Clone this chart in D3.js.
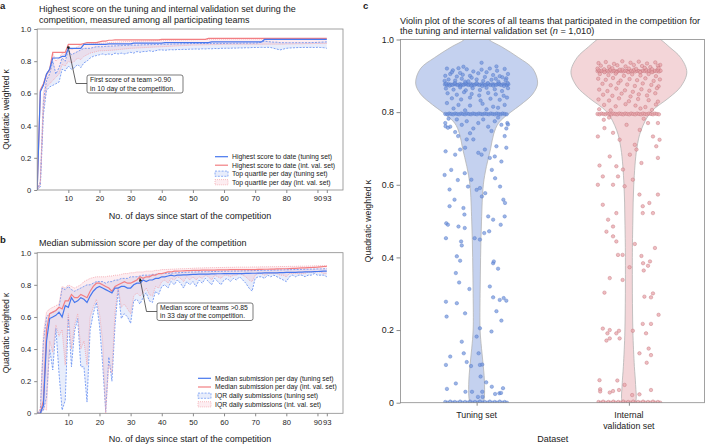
<!DOCTYPE html>
<html><head><meta charset="utf-8">
<script src="https://cdn.jsdelivr.net/npm/d3@7"></script>
<style>body{margin:0;background:#fff}svg{display:block}text{font-family:"Liberation Sans",Arial,sans-serif;fill:#222}</style>
</head><body>
<script>
// ---------- DATA ----------
const days = [0,1,2,3,4,5,6,7,8,9,10,11,12,13,14,15,16,17,18,19,20,21,22,23,24,25,26,27,28,29,30,31,32,33,34,35,36,37,38,39,40,41,42,43,44,45,46,47,48,49,50,51,52,53,54,55,56,57,58,59,60,61,62,63,64,65,66,67,68,69,70,71,72,73,74,75,76,77,78,79,80,81,82,83,84,85,86,87,88,89,90,91,92,93];
const xTicks = [10,20,30,40,50,60,70,80,90,93];
const yTicks = [0,0.2,0.4,0.6,0.8,1.0];

// Panel a
const bestTuning = [0.00,0.61,0.65,0.72,0.75,0.82,0.82,0.82,0.83,0.83,
 0.88,0.88,0.88,0.88,0.88,0.905,0.905,0.905,0.905,0.905,
 0.905,0.905,0.905,0.908,0.908,0.908,0.908,0.908,0.908,0.908,
 0.908,0.912,0.912,0.912,0.912,0.912,0.912,0.912,0.912,0.912,
 0.912,0.915,0.915,0.915,0.915,0.915,0.915,0.915,0.915,0.915,
 0.915,0.915,0.915,0.915,0.915,0.915,0.92,0.92,0.92,0.92,
 0.92,0.92,0.92,0.92,0.92,0.92,0.92,0.92,0.92,0.92,
 0.92,0.92,0.92,0.935,0.935,0.935,0.935,0.935,0.935,0.935,
 0.935,0.935,0.935,0.935,0.935,0.935,0.935,0.935,0.935,0.935,
 0.935,0.935,0.935,0.935];
const bestInternal = [0.00,0.62,0.66,0.72,0.75,0.855,0.855,0.855,0.855,0.855,
 0.905,0.905,0.905,0.905,0.905,0.91,0.915,0.915,0.915,0.915,
 0.92,0.925,0.925,0.93,0.93,0.932,0.932,0.932,0.932,0.932,
 0.932,0.932,0.932,0.932,0.932,0.932,0.932,0.932,0.932,0.932,
 0.936,0.936,0.936,0.936,0.936,0.936,0.936,0.936,0.936,0.936,
 0.936,0.936,0.936,0.936,0.936,0.942,0.942,0.942,0.942,0.942,
 0.942,0.942,0.942,0.942,0.942,0.942,0.942,0.942,0.942,0.942,
 0.942,0.942,0.942,0.942,0.942,0.942,0.942,0.942,0.942,0.942,
 0.942,0.942,0.942,0.942,0.942,0.942,0.942,0.942,0.942,0.942,
 0.942,0.942,0.942,0.942];
const topQTuningHi = [0.00,0.05,0.55,0.68,0.72,0.80,0.72,0.76,0.82,0.80,
 0.87,0.84,0.85,0.86,0.87,0.88,0.88,0.88,0.885,0.89,
 0.89,0.89,0.892,0.893,0.894,0.895,0.896,0.897,0.898,0.899,
 0.90,0.90,0.90,0.901,0.902,0.902,0.903,0.903,0.904,0.904,
 0.905,0.905,0.906,0.906,0.907,0.907,0.908,0.908,0.909,0.909,
 0.91,0.91,0.91,0.91,0.91,0.91,0.91,0.91,0.91,0.91,
 0.91,0.91,0.91,0.911,0.911,0.911,0.912,0.912,0.912,0.912,
 0.912,0.914,0.918,0.925,0.922,0.92,0.918,0.918,0.915,0.915,
 0.915,0.915,0.915,0.915,0.915,0.915,0.915,0.915,0.916,0.916,
 0.917,0.918,0.919,0.92];
const topQTuningLo = [0.00,0.02,0.47,0.62,0.64,0.65,0.66,0.67,0.75,0.74,
 0.77,0.75,0.76,0.78,0.76,0.79,0.80,0.82,0.83,0.835,
 0.84,0.845,0.84,0.845,0.84,0.85,0.845,0.85,0.845,0.85,
 0.855,0.85,0.86,0.855,0.86,0.86,0.865,0.86,0.865,0.87,
 0.87,0.868,0.87,0.872,0.87,0.873,0.872,0.874,0.873,0.875,
 0.875,0.876,0.875,0.877,0.876,0.878,0.877,0.879,0.878,0.88,
 0.88,0.881,0.88,0.882,0.881,0.883,0.882,0.884,0.883,0.885,
 0.885,0.885,0.886,0.885,0.886,0.885,0.88,0.875,0.87,0.875,
 0.88,0.882,0.883,0.884,0.885,0.885,0.886,0.885,0.886,0.885,
 0.886,0.885,0.884,0.88];
const topQIntHi = [0.00,0.06,0.60,0.70,0.74,0.85,0.80,0.82,0.85,0.84,
 0.90,0.87,0.88,0.89,0.90,0.905,0.905,0.907,0.908,0.909,
 0.91,0.912,0.914,0.915,0.917,0.918,0.919,0.92,0.921,0.922,
 0.923,0.924,0.925,0.925,0.926,0.926,0.927,0.927,0.928,0.928,
 0.929,0.929,0.93,0.93,0.93,0.931,0.931,0.932,0.932,0.933,
 0.933,0.934,0.934,0.935,0.935,0.936,0.936,0.936,0.937,0.937,
 0.937,0.937,0.938,0.938,0.938,0.938,0.938,0.938,0.938,0.938,
 0.938,0.938,0.938,0.939,0.939,0.939,0.939,0.939,0.939,0.939,
 0.94,0.94,0.94,0.94,0.94,0.94,0.94,0.94,0.94,0.94,
 0.94,0.94,0.94,0.94];
const topQIntLo = [0.00,0.03,0.50,0.64,0.66,0.68,0.70,0.72,0.78,0.77,
 0.80,0.79,0.80,0.82,0.81,0.83,0.84,0.85,0.855,0.86,
 0.865,0.865,0.866,0.867,0.868,0.87,0.872,0.874,0.876,0.878,
 0.88,0.881,0.882,0.883,0.884,0.885,0.886,0.887,0.888,0.889,
 0.89,0.891,0.892,0.893,0.894,0.895,0.896,0.897,0.898,0.899,
 0.90,0.90,0.901,0.901,0.902,0.902,0.903,0.903,0.904,0.904,
 0.905,0.905,0.905,0.905,0.905,0.905,0.905,0.905,0.905,0.905,
 0.905,0.905,0.905,0.906,0.906,0.906,0.906,0.906,0.906,0.906,
 0.907,0.907,0.907,0.908,0.908,0.908,0.909,0.909,0.909,0.91,
 0.91,0.91,0.91,0.91];

// Panel b
const medTuning = [0.00,0.00,0.05,0.45,0.59,0.60,0.61,0.63,0.60,0.67,
 0.66,0.72,0.69,0.70,0.72,0.71,0.69,0.73,0.76,0.78,
 0.79,0.78,0.77,0.76,0.75,0.78,0.78,0.79,0.79,0.78,
 0.78,0.80,0.81,0.81,0.83,0.82,0.83,0.83,0.84,0.84,
 0.85,0.85,0.855,0.86,0.855,0.86,0.86,0.862,0.862,0.864,
 0.865,0.865,0.866,0.866,0.867,0.867,0.868,0.868,0.869,0.869,
 0.87,0.87,0.87,0.87,0.87,0.87,0.87,0.871,0.871,0.872,
 0.872,0.873,0.873,0.874,0.874,0.875,0.875,0.875,0.876,0.876,
 0.877,0.877,0.878,0.878,0.879,0.879,0.88,0.88,0.881,0.882,
 0.883,0.884,0.885,0.885];
const medInternal = [0.00,0.00,0.08,0.52,0.62,0.63,0.64,0.66,0.65,0.70,
 0.70,0.74,0.72,0.72,0.74,0.73,0.72,0.76,0.79,0.81,
 0.81,0.80,0.79,0.78,0.76,0.79,0.80,0.81,0.82,0.81,
 0.81,0.82,0.83,0.85,0.84,0.85,0.85,0.86,0.86,0.87,
 0.87,0.875,0.88,0.88,0.885,0.885,0.886,0.887,0.888,0.889,
 0.89,0.89,0.89,0.891,0.891,0.892,0.892,0.892,0.893,0.893,
 0.893,0.893,0.894,0.894,0.894,0.894,0.895,0.895,0.895,0.895,
 0.895,0.896,0.896,0.897,0.897,0.898,0.898,0.899,0.899,0.90,
 0.90,0.901,0.902,0.903,0.904,0.905,0.906,0.907,0.908,0.909,
 0.91,0.912,0.914,0.915];
const iqrTuningHi = [0.00,0.02,0.45,0.60,0.62,0.63,0.64,0.66,0.78,0.77,
 0.79,0.77,0.76,0.77,0.78,0.79,0.80,0.80,0.81,0.82,
 0.82,0.82,0.81,0.82,0.82,0.83,0.83,0.84,0.84,0.84,
 0.85,0.85,0.85,0.855,0.86,0.86,0.86,0.865,0.865,0.87,
 0.87,0.871,0.872,0.873,0.874,0.875,0.876,0.877,0.878,0.879,
 0.88,0.88,0.881,0.881,0.882,0.882,0.883,0.883,0.884,0.884,
 0.885,0.885,0.885,0.886,0.886,0.886,0.887,0.887,0.888,0.888,
 0.889,0.889,0.89,0.89,0.891,0.891,0.892,0.892,0.893,0.893,
 0.894,0.894,0.895,0.895,0.896,0.896,0.897,0.897,0.898,0.898,
 0.899,0.899,0.90,0.90];
const iqrTuningLo = [0.00,0.00,0.02,0.10,0.40,0.27,0.53,0.25,0.02,0.08,
 0.60,0.29,0.51,0.59,0.29,0.29,0.07,0.52,0.62,0.69,
 0.55,0.31,0.01,0.35,0.20,0.55,0.77,0.59,0.62,0.60,
 0.56,0.70,0.71,0.68,0.72,0.75,0.70,0.69,0.76,0.74,
 0.79,0.80,0.78,0.82,0.80,0.83,0.81,0.78,0.82,0.80,
 0.82,0.79,0.83,0.81,0.84,0.82,0.80,0.84,0.82,0.80,
 0.83,0.84,0.82,0.84,0.83,0.85,0.83,0.81,0.78,0.76,
 0.84,0.85,0.85,0.84,0.86,0.85,0.86,0.85,0.84,0.83,
 0.82,0.85,0.86,0.85,0.86,0.86,0.85,0.86,0.86,0.87,
 0.86,0.86,0.86,0.85];
const iqrIntHi = [0.00,0.03,0.50,0.63,0.65,0.66,0.67,0.68,0.79,0.78,
 0.80,0.79,0.78,0.79,0.80,0.82,0.83,0.84,0.845,0.85,
 0.85,0.85,0.85,0.855,0.855,0.86,0.86,0.865,0.87,0.87,
 0.875,0.875,0.88,0.88,0.88,0.885,0.885,0.885,0.89,0.89,
 0.895,0.895,0.896,0.897,0.898,0.899,0.90,0.90,0.901,0.902,
 0.903,0.904,0.905,0.905,0.906,0.906,0.907,0.907,0.908,0.908,
 0.908,0.909,0.909,0.909,0.91,0.91,0.91,0.91,0.91,0.911,
 0.911,0.911,0.912,0.912,0.912,0.913,0.913,0.913,0.914,0.914,
 0.914,0.915,0.915,0.915,0.916,0.916,0.916,0.917,0.917,0.918,
 0.918,0.919,0.919,0.92];
const iqrIntLo = [0.00,0.00,0.03,0.02,0.45,0.38,0.55,0.48,0.52,0.30,
 0.62,0.40,0.55,0.62,0.40,0.45,0.30,0.60,0.66,0.71,
 0.62,0.45,0.00,0.30,0.25,0.63,0.79,0.66,0.68,0.65,
 0.62,0.73,0.75,0.73,0.75,0.78,0.74,0.73,0.79,0.78,
 0.82,0.83,0.81,0.84,0.83,0.85,0.84,0.82,0.85,0.83,
 0.85,0.83,0.85,0.84,0.86,0.85,0.83,0.86,0.85,0.84,
 0.86,0.86,0.85,0.86,0.86,0.87,0.86,0.85,0.83,0.82,
 0.86,0.87,0.87,0.86,0.87,0.87,0.87,0.87,0.86,0.86,
 0.85,0.87,0.87,0.87,0.87,0.87,0.87,0.88,0.88,0.88,
 0.88,0.88,0.87,0.87];

// Panel c
const datasets = ["Tuning set", "Internal validation set"];
const violinLevelsTuning = [1.04,1.0,0.98,0.95,0.92,0.88,0.85,0.82,0.80,0.77,0.74,0.70,0.65,0.60,0.50,0.40,0.30,0.20,0.15,0.10,0.05,0.0,-0.03];
const violinDensityTuning = [0,0.20,0.41,0.69,0.92,1.0,0.92,0.72,0.56,0.36,0.28,0.23,0.16,0.11,0.08,0.065,0.057,0.057,0.08,0.11,0.13,0.11,0];
const violinLevelsInternal = [1.06,1.0,0.98,0.95,0.91,0.87,0.84,0.80,0.75,0.70,0.60,0.50,0.40,0.20,0.10,0.05,0.0,-0.03];
const violinDensityInternal = [0,0.52,0.66,0.85,0.95,0.85,0.66,0.36,0.20,0.13,0.08,0.065,0.057,0.065,0.09,0.11,0.11,0];

// [jitter offset (-1..1), score]
const tuningPoints = [
[-0.96,0.876],[-0.9,0.875],[-0.85,0.877],[-0.79,0.876],[-0.74,0.875],[-0.68,0.877],[-0.62,0.876],[-0.57,0.875],[-0.51,0.877],[-0.46,0.876],[-0.4,0.875],[-0.35,0.877],[-0.29,0.876],[-0.24,0.875],[-0.18,0.877],[-0.13,0.876],[-0.07,0.875],[-0.02,0.877],[0.04,0.876],[0.09,0.875],[0.15,0.877],[0.2,0.876],[0.26,0.875],[0.31,0.877],[0.37,0.876],[0.42,0.875],[0.48,0.877],[0.53,0.876],[0.59,0.875],[0.64,0.877],[0.7,0.876],[0.75,0.875],[0.81,0.877],[0.86,0.876],[0.92,0.875],[0.96,0.877],
[-0.93,0.879],[-0.82,0.873],[-0.66,0.88],[-0.49,0.872],[-0.33,0.88],[-0.16,0.873],[0.0,0.88],[0.17,0.872],[0.34,0.88],[0.5,0.873],[0.67,0.879],[0.83,0.872],[0.94,0.88],
[0.15,0.936],[-0.4,0.925],[0.6,0.926],
[-0.9,0.92],[-0.72,0.915],[-0.55,0.921],[-0.3,0.918],[-0.1,0.912],[0.15,0.917],[0.4,0.92],[0.62,0.914],[0.85,0.919],[0.95,0.905],
[-0.95,0.9],[-0.8,0.905],[-0.6,0.898],[-0.42,0.903],[-0.2,0.9],[0.05,0.907],[0.25,0.897],[0.5,0.902],[0.7,0.899],[0.9,0.893],
[-0.85,0.89],[-0.65,0.887],[-0.45,0.892],[-0.25,0.885],[0,0.89],[0.2,0.886],[0.45,0.889],[0.66,0.884],[0.88,0.888],
[-0.75,0.91],[-0.5,0.908],[-0.15,0.895],[0.3,0.91],[0.78,0.896],[-0.35,0.884],[0.58,0.892],[-0.97,0.886],
[-0.93,0.865],[-0.7,0.862],[-0.5,0.868],[-0.33,0.86],[-0.12,0.866],[0.1,0.861],[0.3,0.867],[0.55,0.863],[0.77,0.858],[0.95,0.866],
[-0.88,0.852],[-0.6,0.848],[-0.38,0.855],[-0.15,0.85],[0.08,0.846],[0.35,0.853],[0.58,0.849],[0.82,0.845],
[-0.75,0.838],[-0.47,0.835],[-0.2,0.84],[0.12,0.832],[0.42,0.837],[0.7,0.834],[0.92,0.84],
[-0.9,0.825],[-0.55,0.82],[-0.2,0.818],[0.18,0.823],[0.5,0.815],[0.85,0.82],[-0.7,0.81],[0.3,0.808],[0.65,0.812],[-0.35,0.805],
[-0.95,0.795],[-0.89,0.794],[-0.83,0.796],[-0.77,0.795],[-0.71,0.794],[-0.65,0.796],[-0.59,0.795],[-0.53,0.794],[-0.47,0.796],[-0.41,0.795],[-0.35,0.794],[-0.29,0.796],[-0.23,0.795],[-0.17,0.794],[-0.11,0.796],[-0.05,0.795],[0.01,0.794],[0.07,0.796],[0.13,0.795],[0.19,0.794],[0.25,0.796],[0.31,0.795],[0.37,0.794],[0.43,0.796],[0.49,0.795],[0.55,0.794],[0.61,0.796],[0.67,0.795],[0.73,0.794],[0.79,0.796],[0.85,0.795],[0.91,0.794],
[-0.95,0.77],[-0.8,0.76],[-0.6,0.78],[-0.45,0.765],[-0.3,0.775],[-0.1,0.755],[0.05,0.77],[0.2,0.78],[0.35,0.76],[0.55,0.775],[0.75,0.765],[0.93,0.77],[-0.85,0.782],[0.45,0.748],[-0.2,0.742],[0.65,0.785],[-0.65,0.745],[0.9,0.755],
[-0.94,0.761],[-0.87,0.757],[-0.5,0.697],[-0.35,0.702],[-0.65,0.683],[-0.94,0.692],[-0.56,0.734],[-0.3,0.725],[-0.1,0.725],[0.05,0.688],[0.15,0.683],[0.25,0.697],[0.6,0.706],[0.9,0.702],[0.85,0.734],[0.95,0.766],[0.4,0.674],[0.55,0.678],[0.75,0.664],
[-0.97,0.627],[-0.77,0.641],[-0.57,0.613],[-0.82,0.587],[-0.67,0.559],[-0.82,0.541],[-0.36,0.632],[-0.26,0.595],[-0.16,0.614],[0.0,0.586],[0.1,0.591],[0.16,0.568],[0.26,0.577],[0.46,0.641],[0.56,0.618],[0.71,0.595],[0.81,0.559],[0.86,0.55],
[-0.92,0.494],[-0.87,0.49],[-0.55,0.485],[-0.36,0.481],[0.35,0.513],[0.5,0.504],[0.73,0.49],[0.85,0.513],[-0.4,0.536],[-0.37,0.518],
[-0.93,0.453],[-0.47,0.444],[-0.45,0.433],[-0.6,0.403],[-0.5,0.391],[-0.63,0.357],[-0.53,0.331],[-0.93,0.278],[-0.6,0.274],[-0.91,0.237],[-0.35,0.246],[-0.22,0.313],[0.4,0.32],[0.5,0.384],[0.52,0.389],[0.65,0.369],[0.5,0.29],[0.6,0.252],[0.75,0.226],[0.7,0.283],[0.82,0.288],[0.9,0.281],[0.45,0.196],[0.1,0.205],[0.0,0.182],[-0.45,0.168],[-0.39,0.136],[-0.8,0.127],[-0.3,0.112],[-0.93,0.104],[-0.17,0.101],[0.1,0.104],[0.17,0.105],[0.06,0.136],[0.12,0.072],[0.29,0.056],[-0.63,0.053],[-0.9,0.038],[-0.34,0.03],[-0.14,0.03],[0.17,0.03],[0.46,0.044],[0.8,0.04],[0.56,0.024],[0.69,0.026],[0.74,0.027],[0.04,0.016],[0.18,0.016],[-0.06,0.453],[0.1,0.449],[0.23,0.467],[0.38,0.472],
[-0.95,0.002],[-0.88,0],[-0.8,0.003],[-0.72,0],[-0.66,0.002],[-0.58,0],[-0.5,0.003],[-0.43,0],[-0.35,0.002],[-0.28,0],[-0.2,0.003],[-0.12,0],[-0.05,0.002],[0.03,0],[0.1,0.003],[0.18,0],[0.25,0.002],[0.33,0],[0.4,0.003],[0.48,0],[0.55,0.002],[0.62,0],[0.7,0.003],[0.78,0],[0.85,0.002],[0.92,0]
];
const internalPoints = [
[-0.95,0.913],[-0.89,0.912],[-0.83,0.914],[-0.77,0.913],[-0.71,0.912],[-0.65,0.914],[-0.59,0.913],[-0.53,0.912],[-0.47,0.914],[-0.41,0.913],[-0.35,0.912],[-0.29,0.914],[-0.23,0.913],[-0.17,0.912],[-0.11,0.914],[-0.05,0.913],[0.01,0.912],[0.07,0.914],[0.13,0.913],[0.19,0.912],[0.25,0.914],[0.31,0.913],[0.37,0.912],[0.43,0.914],[0.49,0.913],[0.55,0.912],[0.61,0.914],[0.67,0.913],[0.73,0.912],[0.79,0.914],[0.85,0.913],[0.91,0.912],[0.96,0.914],
[-0.92,0.916],[-0.74,0.91],[-0.56,0.917],[-0.38,0.91],[-0.2,0.917],[-0.02,0.91],[0.16,0.917],[0.34,0.91],[0.52,0.917],[0.7,0.91],[0.88,0.917],
[-0.92,0.935],[-0.7,0.938],[-0.45,0.933],[-0.2,0.94],[0.05,0.936],[0.3,0.939],[0.55,0.934],[0.8,0.937],[0.95,0.93],
[-0.85,0.928],[-0.6,0.925],[-0.35,0.929],[-0.1,0.926],[0.15,0.93],[0.4,0.927],[0.65,0.924],[0.88,0.928],
[-0.95,0.92],[-0.75,0.918],[-0.5,0.921],[-0.28,0.917],[0,0.92],[0.22,0.919],[0.48,0.922],[0.7,0.918],[0.9,0.921],
[-0.88,0.905],[-0.62,0.902],[-0.4,0.906],[-0.15,0.9],[0.1,0.904],[0.35,0.901],[0.6,0.905],[0.82,0.899],
[-0.93,0.892],[-0.7,0.889],[-0.48,0.894],[-0.25,0.887],[0.02,0.891],[0.25,0.888],[0.5,0.893],[0.75,0.886],[0.94,0.89],
[-0.8,0.878],[-0.55,0.874],[-0.32,0.88],[-0.05,0.876],[0.18,0.872],[0.42,0.879],[0.68,0.875],[0.9,0.871],
[-0.9,0.862],[-0.65,0.858],[-0.38,0.865],[-0.12,0.86],[0.12,0.856],[0.38,0.863],[0.62,0.859],[0.85,0.866],
[-0.78,0.848],[-0.5,0.845],[-0.22,0.851],[0.05,0.843],[0.3,0.849],[0.55,0.846],[0.8,0.852],
[-0.92,0.835],[-0.6,0.832],[-0.3,0.838],[0,0.83],[0.28,0.836],[0.6,0.833],[0.88,0.829],
[-0.75,0.82],[-0.4,0.816],[-0.1,0.822],[0.2,0.818],[0.5,0.814],[0.82,0.821],
[-0.9,0.808],[-0.55,0.805],[0.35,0.81],[0.7,0.806],
[-0.95,0.795],[-0.89,0.794],[-0.83,0.796],[-0.77,0.795],[-0.71,0.794],[-0.65,0.796],[-0.59,0.795],[-0.53,0.794],[-0.47,0.796],[-0.41,0.795],[-0.35,0.794],[-0.29,0.796],[-0.23,0.795],[-0.17,0.794],[-0.11,0.796],[-0.05,0.795],[0.01,0.794],[0.07,0.796],[0.13,0.795],[0.19,0.794],[0.25,0.796],[0.31,0.795],[0.37,0.794],[0.43,0.796],[0.49,0.795],[0.55,0.794],[0.61,0.796],[0.67,0.795],[0.73,0.794],[0.79,0.796],[0.85,0.795],[0.91,0.794],
[-0.94,0.733],[-0.74,0.756],[-0.48,0.743],[-0.28,0.724],[-0.07,0.765],[0.18,0.71],[0.33,0.751],[0.58,0.77],[0.73,0.733],[0.88,0.77],[0.03,0.683],[0.23,0.697],[0.38,0.66],[-0.18,0.642],[-0.33,0.623],[-0.76,0.779],[-0.6,0.785],[0.45,0.782],
[-0.89,0.653],[-0.58,0.678],[-0.38,0.651],[-0.94,0.6],[-0.79,0.623],[-0.48,0.6],[-0.13,0.596],[0.12,0.614],[0.32,0.573],[0.42,0.541],[0.62,0.55],[0.88,0.674],[0.83,0.706],[0.93,0.724],[0.88,0.573],[0.73,0.522],[0.42,0.522],[-0.79,0.545],[-0.63,0.504],[-0.38,0.522],[-0.68,0.471],[-0.48,0.485],
[-0.48,0.458],[-0.38,0.444],[-0.33,0.407],[-0.19,0.407],[0.18,0.437],[0.38,0.404],[0.43,0.384],[0.64,0.389],[0.58,0.377],[0.45,0.364],[0.79,0.426],[-0.58,0.343],[-0.19,0.338],[0.02,0.373],[-0.74,0.303],[0.47,0.292],[0.67,0.29],[0.73,0.301],[0.9,0.242],[0.42,0.217],[0.67,0.217],[-0.79,0.204],[-0.58,0.2],[-0.3,0.198],[-0.65,0.191],[-0.38,0.191],[-0.68,0.171],[-0.58,0.177],[-0.28,0.177],[0.12,0.198],[0.52,0.191],[0.32,0.136],[0.6,0.149],[0.67,0.131],[0.54,0.11],[-0.13,0.049],[-0.89,0.062],[-0.87,0.037],[-0.87,0.031],[-0.35,0.061],[-0.58,0.028],[-0.48,0.032],[-0.3,0.035],[0.32,0.023],[0.1,0.021],[0.67,0.035],
[-0.92,0.002],[-0.85,0],[-0.78,0.003],[-0.7,0],[-0.62,0.002],[-0.55,0],[-0.47,0.003],[-0.4,0],[-0.32,0.002],[-0.25,0],[-0.17,0.003],[-0.1,0],[-0.02,0.002],[0.05,0],[0.13,0.003],[0.2,0],[0.28,0.002],[0.35,0],[0.43,0.003],[0.5,0],[0.58,0.002],[0.65,0],[0.73,0.003],[0.8,0],[0.88,0.002],[0.95,0]
];

// ---------- STYLE ----------
const BLUE = "#4677ee", RED = "#f27f83";
const BLUE_D = "#5f8cf2", RED_D = "#f4a3ab";
const BLUE_F = "rgba(110,140,230,0.16)", RED_F = "rgba(240,140,165,0.16)";
const FONT_TICK = 7.6, FONT_TITLE = 9.0, FONT_LEG = 6.8, FONT_AX = 9;

const svg = d3.select("body").append("svg").attr("width",706).attr("height",444);
const defs = svg.append("defs");
const fmtY = d => d === 0 ? "0" : d3.format(".1f")(d);

function panel(id, x0, x1, y0, y1) {
  defs.append("clipPath").attr("id", id).append("rect")
    .attr("x", x0).attr("y", y1).attr("width", x1 - x0).attr("height", y0 - y1);
}

function lineChart(opts) {
  const {id, top, bottom, series, bands, title, letter, letterY, titleY, xlabY, legendItems, legX, legY} = opts;
  const x = d3.scaleLinear().domain([0, 98.2]).range([37.2, 343]);
  const y = d3.scaleLinear().domain([0, 1]).range([bottom, top]);
  panel(id, 37.2, 343, bottom, top);
  const g = svg.append("g");
  const clip = g.append("g").attr("clip-path", `url(#${id})`);
  bands.forEach(b => {
    const area = d3.area().x((d,i) => x(days[i])).y0((d,i) => y(b.lo[i])).y1((d,i) => y(b.hi[i]));
    clip.append("path").datum(days).attr("d", area).attr("fill", b.fill);
  });
  bands.forEach(b => {
    [b.lo, b.hi].forEach(arr => {
      const ln = d3.line().x((d,i) => x(days[i])).y((d,i) => y(arr[i]));
      clip.append("path").datum(days).attr("d", ln).attr("fill","none")
        .attr("stroke", b.stroke).attr("stroke-width", 0.8).attr("stroke-dasharray", b.dash);
    });
  });
  series.forEach(s => {
    const ln = d3.line().x((d,i) => x(days[i])).y((d,i) => y(s.values[i]));
    clip.append("path").datum(days).attr("d", ln).attr("fill","none")
      .attr("stroke", s.color).attr("stroke-width", 1.2);
  });
  g.append("rect").attr("x",37.2).attr("y",top).attr("width",343-37.2).attr("height",bottom-top)
    .attr("fill","none").attr("stroke","#8a8a8a").attr("stroke-width",0.8);
  const ya = g.append("g").attr("transform","translate(37.2,0)")
    .call(d3.axisLeft(y).tickValues(yTicks).tickFormat(fmtY).tickSize(3).tickPadding(3));
  const xa = g.append("g").attr("transform",`translate(0,${bottom})`)
    .call(d3.axisBottom(x).tickValues(xTicks).tickFormat(d3.format("d")).tickSize(3).tickPadding(3));
  [ya, xa].forEach(a => {
    a.select(".domain").remove();
    a.selectAll("line").attr("stroke","#8a8a8a");
    a.selectAll("text").attr("font-size", FONT_TICK).attr("fill","#222")
      .attr("font-family",'"Liberation Sans",Arial,sans-serif');
  });
  g.append("text").attr("x",190).attr("y",xlabY).attr("text-anchor","middle").attr("font-size",FONT_AX)
    .text("No. of days since start of the competition");
  g.append("text").attr("transform",`translate(9,${(top+bottom)/2}) rotate(-90)`).attr("text-anchor","middle")
    .attr("font-size",8.6).text("Quadratic weighted κ");
  g.append("text").attr("x",0).attr("y",letterY).attr("font-size",9.5).attr("font-weight","bold").text(letter);
  title.forEach((t,i) => g.append("text").attr("x",39).attr("y",titleY + i*11).attr("font-size",FONT_TITLE).text(t));
  legendItems.forEach((it,i) => {
    const yy = legY[i];
    if (it.type === "line") {
      g.append("line").attr("x1",legX).attr("x2",legX+13).attr("y1",yy).attr("y2",yy)
        .attr("stroke",it.color).attr("stroke-width",1.2);
    } else {
      g.append("rect").attr("x",legX).attr("y",yy-2.6).attr("width",13).attr("height",5.2)
        .attr("fill",it.fill).attr("stroke",it.color).attr("stroke-width",0.7).attr("stroke-dasharray",it.dash);
    }
    g.append("text").attr("x",legX+17).attr("y",yy).attr("dy","0.35em").attr("font-size",FONT_LEG).text(it.label);
  });
  return {x, y, g};
}

// Panel a
const A = lineChart({
  id:"clipA", top:29, bottom:190,
  bands:[{lo:topQTuningLo, hi:topQTuningHi, fill:BLUE_F, stroke:BLUE_D, dash:"2,1.3"},
         {lo:topQIntLo, hi:topQIntHi, fill:RED_F, stroke:RED_D, dash:"1,1"}],
  series:[{values:bestInternal, color:RED},{values:bestTuning, color:BLUE}],
  title:["Highest score on the tuning and internal validation set during the","competition, measured among all participating teams"],
  letter:"a", letterY:8.5, titleY:12, xlabY:219,
  legX:215, legY:[156.7,165.2,173.7,182.2],
  legendItems:[
    {type:"line", color:BLUE, label:"Highest score to date (tuning set)"},
    {type:"line", color:RED, label:"Highest score to date (int. val. set)"},
    {type:"band", color:BLUE_D, fill:BLUE_F, dash:"2,1.3", label:"Top quartile per day (tuning set)"},
    {type:"band", color:RED_D, fill:RED_F, dash:"1,1", label:"Top quartile per day (int. val. set)"}]
});
(function(){
  const px = A.x(10), py = A.y(0.885);
  A.g.append("path").attr("d",`M${px},${py} L76,83.5 L87,83.5`).attr("fill","none").attr("stroke","#222").attr("stroke-width",0.7);
  A.g.append("circle").attr("cx",px).attr("cy",py).attr("r",1.3).attr("fill","#222");
  A.g.append("rect").attr("x",87).attr("y",75).attr("width",96).attr("height",18).attr("rx",2)
    .attr("fill","#fff").attr("stroke","#444").attr("stroke-width",0.7);
  A.g.append("text").attr("x",90).attr("y",79.8).attr("dy","0.35em").attr("font-size",FONT_LEG).text("First score of a team >0.90");
  A.g.append("text").attr("x",90).attr("y",88.3).attr("dy","0.35em").attr("font-size",FONT_LEG).text("in 10 day of the competition.");
})();

// Panel b
const B = lineChart({
  id:"clipB", top:252.7, bottom:413.3,
  bands:[{lo:iqrTuningLo, hi:iqrTuningHi, fill:BLUE_F, stroke:BLUE_D, dash:"2,1.3"},
         {lo:iqrIntLo, hi:iqrIntHi, fill:RED_F, stroke:RED_D, dash:"1,1"}],
  series:[{values:medInternal, color:RED},{values:medTuning, color:BLUE}],
  title:["Median submission score per day of the competition"],
  letter:"b", letterY:242.5, titleY:246, xlabY:442,
  legX:198, legY:[378.3,387,395.7,404.3],
  legendItems:[
    {type:"line", color:BLUE, label:"Median submission per day (tuning set)"},
    {type:"line", color:RED, label:"Median submission per day (int. val. set)"},
    {type:"band", color:BLUE_D, fill:BLUE_F, dash:"2,1.3", label:"IQR daily submissions (tuning set)"},
    {type:"band", color:RED_D, fill:RED_F, dash:"1,1", label:"IQR daily submissions (int. val. set)"}]
});
(function(){
  defs.append("marker").attr("id","arrowB").attr("viewBox","0 0 10 10").attr("refX",9).attr("refY",5)
    .attr("markerWidth",5).attr("markerHeight",5).attr("orient","auto-start-reverse")
    .append("path").attr("d","M0,0 L10,5 L0,10 z").attr("fill","#222");
  const px = B.x(33), py = B.y(0.84);
  B.g.append("path").attr("d",`M157,311.5 L146.5,311.5 L${px},${py}`).attr("fill","none")
    .attr("stroke","#222").attr("stroke-width",0.7).attr("marker-end","url(#arrowB)");
  B.g.append("rect").attr("x",157).attr("y",303).attr("width",96).attr("height",17.5).attr("rx",2)
    .attr("fill","#fff").attr("stroke","#444").attr("stroke-width",0.7);
  B.g.append("text").attr("x",160).attr("y",307.7).attr("dy","0.35em").attr("font-size",FONT_LEG).text("Median score of teams >0.85");
  B.g.append("text").attr("x",160).attr("y",316).attr("dy","0.35em").attr("font-size",FONT_LEG).text("in 33 day of the competition.");
})();

// Panel c
(function(){
  const left = 400.5, right = 705, top = 39.5, bottom = 402.7;
  const x = d3.scalePoint().domain(datasets).range([left, right]).padding(0.5);
  const y = d3.scaleLinear().domain([0,1]).range([bottom, top]);
  const w = d3.scaleLinear().domain([0,1]).range([0, 61]);
  const jit = d3.scaleLinear().domain([-1,1]).range([-33,33]);
  panel("clipC", left, right, bottom, top);
  const g = svg.append("g");
  const clip = g.append("g").attr("clip-path","url(#clipC)");
  const violins = [
    {cat:datasets[0], lv:violinLevelsTuning, dn:violinDensityTuning, fill:"#c4d1ef"},
    {cat:datasets[1], lv:violinLevelsInternal, dn:violinDensityInternal, fill:"#f3d5d8"}];
  violins.forEach(v => {
    const cx = x(v.cat);
    const area = d3.area().curve(d3.curveCatmullRom.alpha(0.5))
      .y((d,i) => y(v.lv[i])).x0((d,i) => cx - w(v.dn[i])).x1((d,i) => cx + w(v.dn[i]));
    clip.append("path").datum(v.lv).attr("d", area).attr("fill", v.fill)
      .attr("stroke","#b4b4b4").attr("stroke-width",0.8);
  });
  const pts = [
    {cat:datasets[0], data:tuningPoints, fill:"#7194dc", stroke:"#4b6fc4", op:0.7},
    {cat:datasets[1], data:internalPoints, fill:"#e8a6ab", stroke:"#b9646d", op:0.75}];
  pts.forEach(p => {
    const cx = x(p.cat);
    clip.append("g").selectAll("circle").data(p.data).join("circle")
      .attr("cx", d => cx + jit(d[0])).attr("cy", d => y(d[1])).attr("r", 1.75)
      .attr("fill", p.fill).attr("fill-opacity", p.op).attr("stroke", p.stroke)
      .attr("stroke-opacity", 0.7).attr("stroke-width", 0.5);
  });
  g.append("rect").attr("x",left).attr("y",top).attr("width",right-left-0.5).attr("height",bottom-top)
    .attr("fill","none").attr("stroke","#8a8a8a").attr("stroke-width",0.8);
  const ya = g.append("g").attr("transform",`translate(${left},0)`)
    .call(d3.axisLeft(y).tickValues(yTicks).tickFormat(fmtY).tickSize(4).tickPadding(2.5));
  const xa = g.append("g").attr("transform",`translate(0,${bottom})`)
    .call(d3.axisBottom(x).tickSize(3).tickPadding(3).tickFormat(""));
  [ya, xa].forEach(a => {
    a.select(".domain").remove();
    a.selectAll("line").attr("stroke","#8a8a8a");
    a.selectAll("text").attr("font-size", 8.8).attr("fill","#222")
      .attr("font-family",'"Liberation Sans",Arial,sans-serif');
  });
  const catLines = {"Tuning set":["Tuning set"], "Internal validation set":["Internal","validation set"]};
  datasets.forEach(c => {
    catLines[c].forEach((t,i) => g.append("text").attr("x", x(c)).attr("y", 417.5 + i*11)
      .attr("text-anchor","middle").attr("font-size",8.8).text(t));
  });
  g.append("text").attr("x",(left+right)/2).attr("y",441.5).attr("text-anchor","middle").attr("font-size",9).text("Dataset");
  g.append("text").attr("transform",`translate(371,${(top+bottom)/2}) rotate(-90)`).attr("text-anchor","middle")
    .attr("font-size",8.8).text("Quadratic weighted κ");
  g.append("text").attr("x",363).attr("y",8.5).attr("font-size",9.5).attr("font-weight","bold").text("c");
  g.append("text").attr("x",400).attr("y",23.5).attr("font-size",9.2)
    .text("Violin plot of the scores of all teams that participated in the competition for");
  const t2 = g.append("text").attr("x",400).attr("y",34).attr("font-size",9.2);
  t2.append("tspan").text("the tuning and internal validation set (");
  t2.append("tspan").attr("font-style","italic").text("n");
  t2.append("tspan").text(" = 1,010)");
})();
</script>
</body></html>
